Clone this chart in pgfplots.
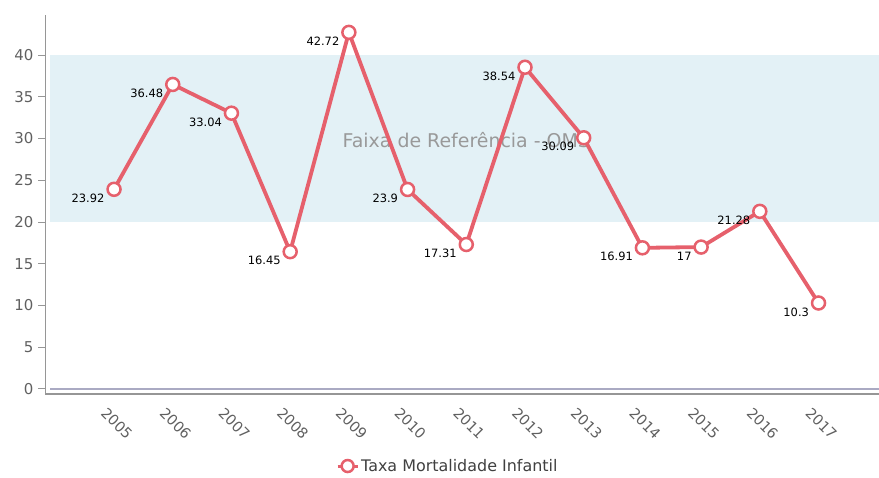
\documentclass[border=0pt]{standalone}
\usepackage{pgfplots}
\pgfplotsset{compat=1.18}
\usepackage{fontspec}
\setmainfont{DejaVu Sans}
\definecolor{serie}{RGB}{230,96,108}
\definecolor{band}{RGB}{227,241,246}
\definecolor{tickgray}{RGB}{96,96,96}
\definecolor{axisgray}{RGB}{150,150,150}
\definecolor{zeroline}{RGB}{170,170,195}
\begin{document}
\begin{tikzpicture}
\useasboundingbox (-45bp,-84bp) rectangle (834bp,394bp);
\begin{axis}[
  scale only axis,
  width=834bp, height=379bp,
  xmin=-1.176, xmax=13.03,
  ymin=-0.6, ymax=44.8,
  axis x line*=bottom, axis y line*=left,
  axis line style={axisgray, line width=1.2bp},
  x axis line style={-, line width=1.5bp, color=axisgray},
  y axis line style={-, line width=1bp, color=axisgray},
  xtick={0,...,12},
  xticklabels={2005,2006,2007,2008,2009,2010,2011,2012,2013,2014,2015,2016,2017},
  xticklabel style={rotate=-45, anchor=north west, xshift=-4bp, yshift=-5bp, font=\fontsize{14.5}{14.5}\selectfont, color=tickgray},
  major x tick style={draw=none},
  ytick={0,5,...,40},
  yticklabel style={font=\fontsize{15}{15}\selectfont, color=tickgray, xshift=-1bp},
  y tick style={color=axisgray, line width=1bp},
  tick align=outside,
  major tick length=7bp,
  /pgf/number format/assume math mode=true,
  clip=false,
  legend style={at={(axis description cs:0.483,-0.19)}, anchor=center, draw=none, fill=none,
    font=\fontsize{16}{16}\selectfont, text=black!75, legend columns=-1},
  legend image code/.code={
    \draw[serie, line width=3bp] (0bp,0bp) -- (20bp,0bp);
    \draw[serie, line width=2.5bp, fill=white] (10bp,0bp) circle (6bp);
  },
  nodes near coords,
  point meta=explicit symbolic,
  nodes near coords style={anchor=east, xshift=-5bp, yshift=-9bp, font=\fontsize{11.5}{11.5}\selectfont, text=black},
]
\fill[band] (axis cs:-1.09,20) rectangle (axis cs:13.03,40);
\node[text=black!40, font=\fontsize{19}{19}\selectfont] at (axis cs:6.0,29.8) {Faixa de Referência - OMS};
\draw[zeroline, line width=1.5bp] (axis cs:-1.09,0) -- (axis cs:13.03,0);
\addplot[serie, line width=3.8bp, mark=*, mark size=6.5bp, mark options={fill=white, draw=serie, line width=2.5bp}]
  table[meta=lbl] {
x y lbl
0 23.92 23.92
1 36.48 36.48
2 33.04 33.04
3 16.45 16.45
4 42.72 42.72
5 23.9 23.9
6 17.31 17.31
7 38.54 38.54
8 30.09 30.09
9 16.91 16.91
10 17 17
11 21.28 21.28
12 10.3 10.3
};
\addlegendentry{Taxa Mortalidade Infantil}
\end{axis}
\end{tikzpicture}
\end{document}
